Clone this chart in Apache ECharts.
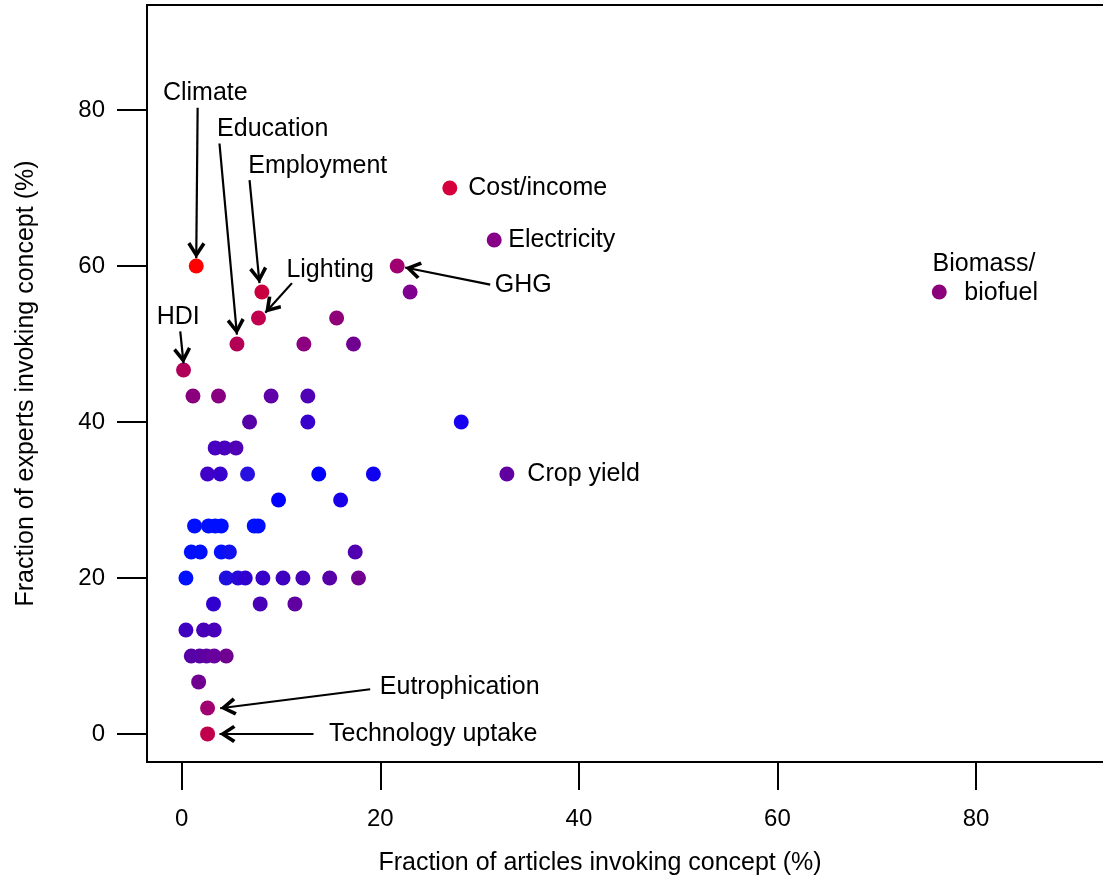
<!DOCTYPE html>
<html><head><meta charset="utf-8">
<script src="https://cdn.jsdelivr.net/npm/echarts@6/dist/echarts.min.js"></script>
<style>html,body{margin:0;padding:0;background:#fff}#c{width:1103px;height:883px}</style>
</head><body><div id="c"></div>
<script>
// Fraction of articles invoking concept (%)
const articles = [1.46, 27.0, 8.07, 7.73, 5.56, 0.18, 21.7, 23.0, 31.47, 76.3,
  15.6, 12.3, 17.3, 1.13, 3.7, 9.0, 12.7, 6.83, 12.7, 28.15,
  3.37, 4.31, 5.46, 2.6, 3.88, 6.63, 13.8, 19.3, 32.75, 9.75,
  16.0, 1.29, 2.7, 3.37, 3.98, 7.3, 7.7, 0.96, 1.86, 3.98,
  4.8, 17.47, 0.42, 4.48, 5.66, 6.4, 8.17, 10.2, 12.2, 14.9,
  17.8, 3.2, 7.9, 11.4, 0.42, 2.2, 3.27, 0.96, 1.8, 2.5,
  3.27, 4.48, 1.7, 2.6, 2.6];
// Fraction of experts invoking concept (%)
const experts = [60, 70, 56.67, 53.33, 50, 46.67, 60, 56.67, 63.33, 56.67,
  53.33, 50, 50, 43.33, 43.33, 43.33, 43.33, 40, 40, 40,
  36.67, 36.67, 36.67, 33.33, 33.33, 33.33, 33.33, 33.33, 33.33, 30,
  30, 26.67, 26.67, 26.67, 26.67, 26.67, 26.67, 23.33, 23.33, 23.33,
  23.33, 23.33, 20, 20, 20, 20, 20, 20, 20, 20,
  20, 16.67, 16.67, 16.67, 13.33, 13.33, 13.33, 10, 10, 10,
  10, 10, 6.67, 3.33, 0];
const dotColors = ['#FF0000', '#D6003C', '#C8003F', '#C0004F', '#B30055', '#B0005A', '#A00070', '#800090', '#880088', '#8C007C',
  '#900078', '#8C0080', '#700090', '#8A007C', '#880080', '#6000A8', '#5000B5', '#5800A8', '#3800CC', '#1800F0',
  '#4800C0', '#4800BE', '#5000B5', '#4000C8', '#3800CC', '#2810E0', '#0000FF', '#1000F0', '#6000A0', '#0000FF',
  '#1800E8', '#0010FF', '#0010FF', '#0010FF', '#0010FF', '#0010FF', '#0010FF', '#0010FF', '#0010FF', '#0510FF',
  '#1010F0', '#5000B0', '#0010FF', '#2010E0', '#2808D8', '#3000D0', '#3800C8', '#4000C0', '#4800B8', '#5800A8',
  '#700090', '#3000D0', '#4800B8', '#6000A0', '#4000C0', '#4800B8', '#4800B8', '#5800A8', '#5800A8', '#6000A0',
  '#6800A0', '#700090', '#700090', '#A00070', '#C0004C'];

const xTicks = [0, 20, 40, 60, 80];
const yTicks = [0, 20, 40, 60, 80];

// annotation texts (centre of text, in data units)
const noteText = ['Climate', 'Education', 'Employment', 'Lighting', 'HDI', 'Cost/income', 'Electricity', 'GHG', 'Biomass/', 'biofuel', 'Crop yield', 'Eutrophication', 'Technology uptake'];
const noteX = [2.37, 9.16, 13.70, 14.95, -0.35, 35.85, 38.27, 34.39, 80.8, 82.53, 40.48, 28.0, 25.33];
const noteY = [82.18, 77.56, 72.82, 59.49, 53.40, 70.0, 63.33, 57.56, 60.26, 56.54, 33.33, 6.03, 0];

// annotation arrows (from text to point, in data units)
const arrowFrom = [[1.6, 80.3], [3.8, 75.7], [6.83, 71.0], [11.1, 57.8], [-0.15, 51.6], [31.07, 57.6], [18.98, 5.73], [13.27, 0]];
const arrowTo = [[1.46, 61.0], [5.56, 51.2], [7.83, 57.8], [8.41, 54.0], [0.18, 47.5], [22.5, 59.8], [3.87, 3.29], [3.8, 0]];

const FONT = "'Liberation Sans', Arial, Helvetica, sans-serif";
const arrowHead = 'path://M50 0 L50.05 0 L50 0.05 Z M50 100 L100 186 L84 200 L50 140 L16 200 L0 186 Z';

const chart = echarts.init(document.getElementById('c'), null, {renderer: 'canvas'});
chart.setOption({
  animation: false,
  backgroundColor: '#fff',
  grid: {left: 147, top: 5, width: 970, height: 757, show: true, borderColor: '#000', borderWidth: 2, backgroundColor: 'transparent', containLabel: false, outerBoundsMode: 'none'},
  xAxis: {
    type: 'value', min: -3.5, max: 94.2,
    splitLine: {show: false},
    axisLine: {show: true, onZero: false, lineStyle: {color: '#000', width: 2}},
    axisTick: {show: true, inside: false, length: 28, lineStyle: {color: '#000', width: 2}, customValues: xTicks},
    axisLabel: {customValues: xTicks, margin: 45, fontSize: 24, color: '#000', fontFamily: FONT},
    name: 'Fraction of articles invoking concept (%)', nameLocation: 'middle', nameGap: 89,
    nameTextStyle: {fontSize: 25, color: '#000', fontFamily: FONT, padding: [0, 64, 0, 0]}
  },
  yAxis: {
    type: 'value', min: -3.6, max: 93.46,
    splitLine: {show: false},
    axisLine: {show: true, onZero: false, lineStyle: {color: '#000', width: 2}},
    axisTick: {show: true, inside: false, length: 30, lineStyle: {color: '#000', width: 2}, customValues: yTicks},
    axisLabel: {customValues: yTicks, margin: 42, fontSize: 24, color: '#000', fontFamily: FONT},
    name: 'Fraction of experts invoking concept (%)', nameLocation: 'middle', nameGap: 108,
    nameTextStyle: {fontSize: 25, color: '#000', fontFamily: FONT}
  },
  series: [
    {
      type: 'scatter', symbol: 'circle', symbolSize: 15, silent: true,
      data: articles.map((x, i) => ({value: [x, experts[i]], itemStyle: {color: dotColors[i], opacity: 1}})),
      markLine: {
        silent: true, animation: false,
        symbol: ['none', arrowHead], symbolSize: [18, 32],
        lineStyle: {color: '#000', width: 2.2, type: 'solid', opacity: 1},
        itemStyle: {color: '#000'},
        label: {show: false},
        emphasis: {disabled: true},
        data: arrowFrom.map((f, i) => [{coord: f}, {coord: arrowTo[i]}])
      }
    },
    {
      type: 'scatter', symbol: 'circle', symbolSize: 0, silent: true,
      itemStyle: {color: '#fff', opacity: 1},
      data: noteText.map((t, i) => ({value: [noteX[i], noteY[i]], name: t})),
      label: {show: true, position: 'inside', formatter: '{b}', color: '#000', opacity: 1, textBorderWidth: 0, fontSize: 25, fontFamily: FONT}
    }
  ]
});
</script></body></html>
